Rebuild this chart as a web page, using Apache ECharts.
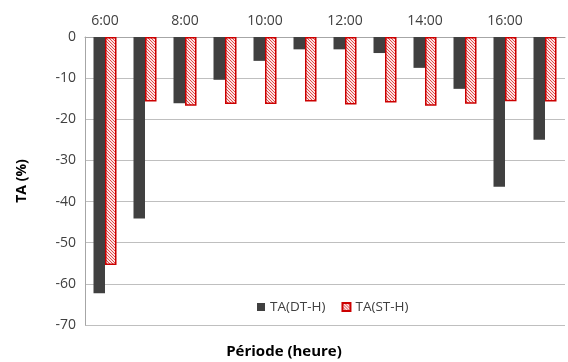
<!DOCTYPE html>
<html><head><meta charset="utf-8">
<script src="https://cdn.jsdelivr.net/npm/echarts@6/dist/echarts.min.js"></script>
<style>html,body{margin:0;padding:0;background:#fff}#c{width:568px;height:362px}</style>
</head><body><div id="c"></div>
<script>
const categories = ['6:00','7:00','8:00','9:00','10:00','11:00','12:00','13:00','14:00','15:00','16:00','17:00'];
const seriesNames = ['TA(DT-H)','TA(ST-H)'];
const dtValues = [-62.3,-44.1,-16.1,-10.4,-5.8,-3.0,-3.0,-3.9,-7.5,-12.6,-36.4,-25.0];
const stValues = [-55.4,-15.7,-16.7,-16.3,-16.3,-15.7,-16.4,-15.9,-16.7,-16.2,-15.6,-15.7];
const yTicks = [0,-10,-20,-30,-40,-50,-60,-70];

function hatch(){
  const c=document.createElement('canvas');c.width=3;c.height=3;
  const g=c.getContext('2d');
  g.fillStyle='#fbe3e3';g.fillRect(0,0,3,3);
  g.fillStyle='#e04a4a';
  for(let i=0;i<3;i++){g.fillRect((i+2)%3,i,1,1);}
  return c;
}
const pat={image:hatch(),repeat:'repeat'};
const chart=echarts.init(document.getElementById('c'));
const font='"Open Sans", "Noto Sans", sans-serif';
chart.setOption({
  animation:false,
  textStyle:{fontFamily:font},
  grid:{left:85,right:3,top:37,bottom:37},
  legend:{bottom:43,left:252,itemWidth:8,itemHeight:8,itemGap:16,
    textStyle:{fontSize:13.5,color:'#404040',fontFamily:font},
    data:[{name:seriesNames[0],icon:'rect'},{name:seriesNames[1],icon:'rect'}]},
  xAxis:{type:'category',data:categories,position:'top',
    axisLine:{lineStyle:{color:'#a6a6a6'}},
    axisTick:{inside:true,length:5,interval:0,lineStyle:{color:'#a6a6a6'}},
    axisLabel:{interval:1,fontSize:14,color:'#404040',margin:9}},
  yAxis:{type:'value',min:-70,max:0,interval:10,
    name:'TA (%)',nameLocation:'middle',nameGap:56,
    nameTextStyle:{fontSize:14,fontWeight:'bold',color:'#000'},
    axisLine:{show:true,lineStyle:{color:'#a6a6a6'}},
    splitLine:{lineStyle:{color:'#bfbfbf'}},
    axisLabel:{fontSize:14,color:'#404040',margin:9}},
  graphic:[{type:'text',left:'center',top:344,
    style:{text:'Période (heure)',font:'bold 15px '+font,fill:'#000'}}],
  series:[
    {name:seriesNames[0],type:'bar',data:dtValues,barWidth:11.5,barGap:'0%',
      itemStyle:{color:'#404040'}},
    {name:seriesNames[1],type:'bar',data:stValues,barWidth:11.5,
      itemStyle:{color:pat,borderColor:'#cc0000',borderWidth:1.5}}
  ]
});
</script></body></html>
